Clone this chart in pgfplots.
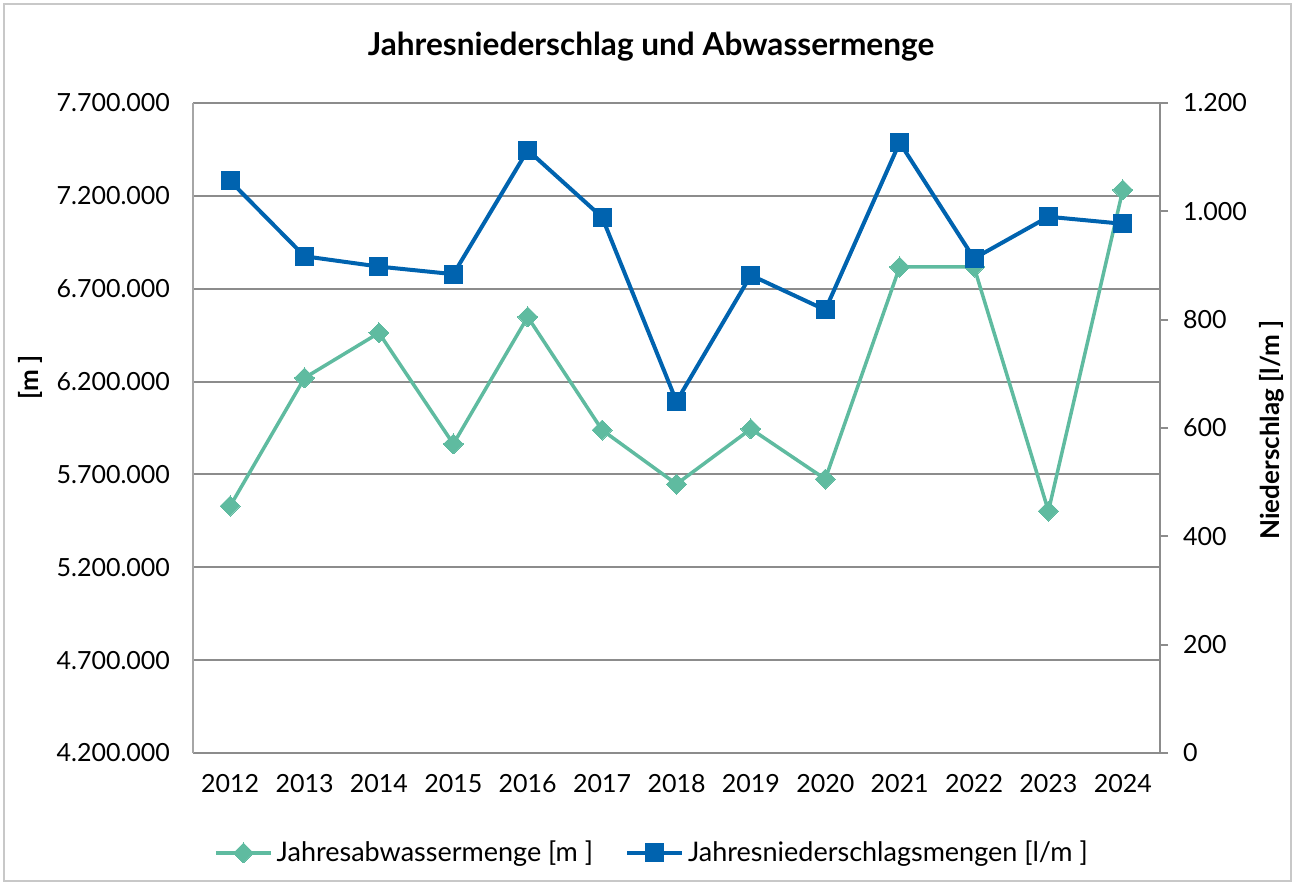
\documentclass[border=0pt]{standalone}
\usepackage{fontspec}
\setmainfont{Lato}
\usepackage{pgfplots}
\pgfplotsset{compat=1.18}
\definecolor{cblue}{RGB}{0,99,175}
\definecolor{cgreen}{RGB}{95,187,160}
\definecolor{cgrid}{RGB}{140,140,140}
\definecolor{cleft}{RGB}{166,166,166}
\definecolor{cframe}{RGB}{200,200,200}
\begin{document}
\begin{tikzpicture}
\path (0pt,0pt) rectangle (647.5pt,442.5pt);
\draw[cframe, line width=1pt] (2pt,2pt) rectangle (645.5pt,440.5pt);
\node[font=\fontsize{15.8}{19}\selectfont\bfseries] at (325.5pt,419pt) {Jahresniederschlag und Abwassermenge};
\begin{axis}[
  at={(96.5pt,66pt)}, anchor=south west,
  scale only axis, width=483.5pt, height=325pt,
  xmin=-0.5, xmax=12.5, ymin=4200000, ymax=7700000,
  axis x line*=bottom, axis y line*=left,
  x axis line style={cgrid, line width=1pt, -},
  y axis line style={cleft, line width=1pt, -},
  xtick={0,...,12},
  xticklabels={2012,2013,2014,2015,2016,2017,2018,2019,2020,2021,2022,2023,2024},
  ytick={4200000,4700000,5200000,5700000,6200000,6700000,7200000,7700000},
  major tick length=0pt,
  ymajorgrids, grid style={cgrid, line width=1pt},
  scaled y ticks=false,
  /pgf/number format/.cd, fixed, precision=0, 1000 sep={.}, assume math mode=true,
  /pgfplots/.cd,
  tick label style={font=\fontsize{12.5}{15}\selectfont},
  yticklabel shift=8pt,
  xticklabel shift=7pt,
  ylabel={[m ]},
  every axis y label/.style={font=\fontsize{13}{15}\selectfont\bfseries, at={(rel axis cs:-0.1686,0.578)}, anchor=center, rotate=90},
  legend style={at={(rel axis cs:0.4757,-0.1538)}, anchor=center, draw=none, fill=none,
    font=\fontsize{13.5}{16}\selectfont, legend columns=2,
    /tikz/every even column/.append style={column sep=14pt}},
  legend cell align=left,
  legend image code/.code={\draw[mark repeat=2,mark phase=2] plot coordinates {(0pt,0pt)(13.75pt,0pt)(27.5pt,0pt)};},
]
\addplot[cgreen, line width=1.75pt, mark=square*, mark size=3.54pt, mark options={rotate=45, solid, fill=cgreen, draw=cgreen, line width=0pt}]
coordinates {
(0,5530000) (1,6220000) (2,6462000) (3,5864000) (4,6548000) (5,5939000) (6,5648000)
(7,5945000) (8,5675000) (9,6817000) (10,6817000) (11,5503000) (12,7232000)
};
\addlegendentry{Jahresabwassermenge [m ]}
\addlegendimage{cblue, line width=2pt, mark=square*, mark size=4.5pt, mark options={solid, fill=cblue, draw=cblue, line width=0pt}}
\addlegendentry{Jahresniederschlagsmengen [l/m ]}
\end{axis}
\begin{axis}[
  at={(96.5pt,66pt)}, anchor=south west,
  scale only axis, width=483.5pt, height=325pt,
  xmin=-0.5, xmax=12.5, ymin=0, ymax=1200,
  axis x line=none, axis y line*=right,
  y axis line style={cgrid, line width=1pt, -},
  ytick={0,200,...,1200},
  tick align=outside, major tick length=4pt,
  major tick style={cgrid, line width=1pt},
  /pgf/number format/.cd, fixed, precision=0, 1000 sep={.}, assume math mode=true,
  /pgfplots/.cd,
  tick label style={font=\fontsize{12.5}{15}\selectfont},
  yticklabel shift=4pt,
  ylabel={Niederschlag [l/m ]},
  every axis y label/.style={font=\fontsize{13}{15}\selectfont\bfseries, at={(rel axis cs:1.1158,0.497)}, anchor=center, rotate=90},
]
\addplot[cblue, line width=2pt, mark=square*, mark size=4.5pt, mark options={solid, fill=cblue, draw=cblue, line width=0pt}]
coordinates {
(0,1056) (1,917) (2,898) (3,884) (4,1113) (5,989) (6,649)
(7,882) (8,818) (9,1127) (10,913) (11,990) (12,977)
};
\end{axis}
\end{tikzpicture}
\end{document}
